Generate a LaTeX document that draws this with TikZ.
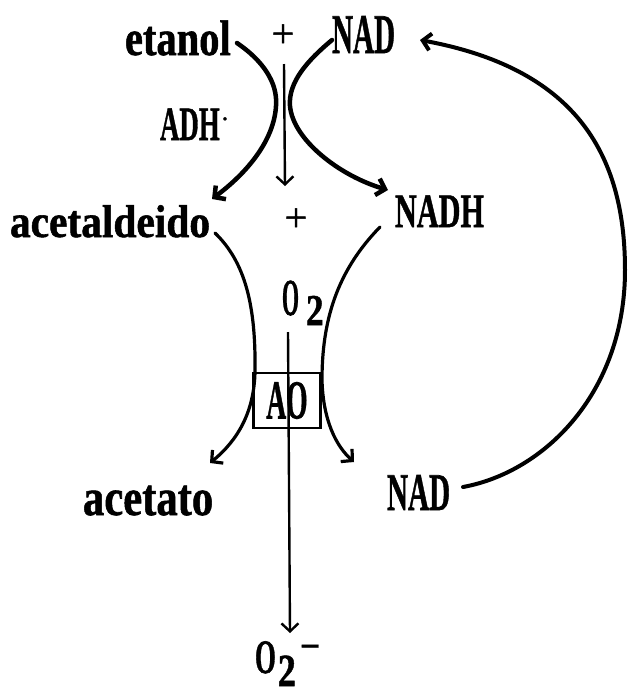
\documentclass[tikz,border=0pt]{standalone}
\usepackage{fontspec}
\setmainfont{Liberation Serif}[FakeBold=1.2]
\usepackage{graphicx}
\usetikzlibrary{arrows.meta}
\newcommand\dtxt[3]{{\fontsize{#1pt}{#1pt}\selectfont\scalebox{#2}[1]{#3}}}
\newcommand\btxt[3]{{\bfseries\fontsize{#1pt}{#1pt}\selectfont\scalebox{#2}[1]{#3}}}
\tikzset{
  lbl/.style={anchor=base west, inner sep=0pt, outer sep=0pt},
  barbarrow/.style={-{Straight Barb[length=8pt,width=17pt]}},
  thick curve/.style={line width=4.5pt, line cap=round},
  arc curve/.style={line width=4pt, line cap=round},
  mid curve/.style={line width=3.2pt, line cap=round},
  thin line/.style={line width=2.4pt}
}
\begin{document}
\begin{tikzpicture}[x=1pt,y=-1pt]
\useasboundingbox (0,0) rectangle (629,697);
% labels
\node[lbl] (etanol) at (125,55) {\btxt{50}{0.81}{etanol}};
\node[anchor=base, inner sep=0pt] (plus1) at (283,47) {\dtxt{40}{1}{+}};
\node[lbl] (nad1) at (332,53) {\btxt{56}{0.52}{NAD}};
\node[lbl] (adh) at (160,140) {\btxt{48}{0.56}{ADH}\hspace{2pt}\raisebox{20pt}{\dtxt{26}{1}{.}}};
\node[lbl] (acald) at (10,237) {\btxt{46}{0.9}{acetaldeido}};
\node[anchor=base, inner sep=0pt] (plus2) at (296,231) {\dtxt{40}{1}{+}};
\node[lbl] (nadh) at (395,227) {\btxt{48}{0.63}{NADH}};
\node[lbl] (o2) at (282,315) {\btxt{52}{0.42}{O}\hspace{7pt}\raisebox{-10pt}{\btxt{44}{0.8}{2}}};
\node[draw, line width=2.2pt, minimum width=67pt, minimum height=55pt, inner sep=0pt] (ao) at (287,400.5) {\btxt{55}{0.5}{AO}};
\node[lbl] (acetato) at (83,515) {\btxt{52}{0.82}{acetato}};
\node[lbl] (nad2) at (387,510) {\btxt{53}{0.55}{NAD}};
\node[lbl] (o2m) at (255,673) {\btxt{48}{0.56}{O}\hspace{2pt}\raisebox{-13pt}{\btxt{46}{0.78}{2}}\hspace{4pt}\raisebox{15pt}{\btxt{36}{1}{−}}};
% connector end points
\coordinate (e1) at (237,43);
\coordinate (e2) at (212,199);
\coordinate (n1) at (332,40);
\coordinate (n2) at (388,190);
\coordinate (v1) at (284,64);
\coordinate (v2) at (285,186);
\coordinate (a1) at (215,233);
\coordinate (a2) at (210,463);
\coordinate (h1) at (380,227);
\coordinate (h2) at (354,462);
\coordinate (o1) at (288,332);
\coordinate (o3) at (290,633);
\coordinate (r1) at (463,487);
\coordinate (r2) at (420,40);
% ADH reaction
\draw[thick curve, barbarrow] (e1) .. controls (262,60) and (278,82) .. (276,106) .. controls (274,140) and (248,172) .. (e2);
\draw[thick curve, barbarrow] (n1) .. controls (308,60) and (288,82) .. (290,106) .. controls (293,140) and (340,176) .. (n2);
\draw[thin line, barbarrow] (v1) -- (v2);
% AO reaction
\draw[mid curve, barbarrow] (a1) .. controls (245,262) and (256,305) .. (255,372) .. controls (254,412) and (238,440) .. (a2);
\draw[mid curve, barbarrow] (h1) .. controls (336,272) and (322,322) .. (322,380) .. controls (323,420) and (336,446) .. (h2);
\draw[thin line, barbarrow] (o1) -- (o3);
% NAD regeneration
\draw[arc curve, barbarrow] (r1) .. controls (545,472) and (625,392) .. (625,270) .. controls (625,150) and (572,68) .. (r2);
\end{tikzpicture}
\end{document}
